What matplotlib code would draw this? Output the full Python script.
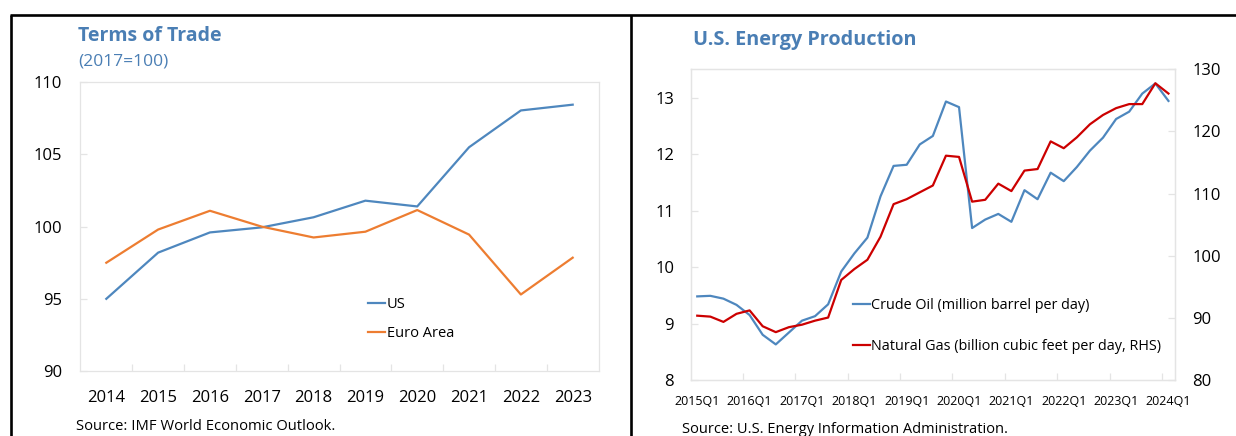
import matplotlib
matplotlib.use("Agg")
import matplotlib.pyplot as plt
from matplotlib.lines import Line2D
from matplotlib.ticker import FixedLocator

plt.rcParams['font.family'] = ['Open Sans', 'DejaVu Sans']

# ---------------- data ----------------
years = ["2014", "2015", "2016", "2017", "2018", "2019", "2020", "2021", "2022", "2023"]
tot_us = [95.0, 98.2, 99.6, 99.95, 100.65, 101.8, 101.4, 105.5, 108.05, 108.45]
tot_euro = [97.5, 99.8, 101.1, 100.0, 99.25, 99.65, 101.15, 99.45, 95.3, 97.85]

quarters = [f"{y}Q{q}" for y in range(2015, 2024) for q in range(1, 5)] + ["2024Q1"]
crude_oil = [9.48, 9.49, 9.44, 9.33, 9.15, 8.80, 8.63, 8.84, 9.05, 9.13,
             9.34, 9.92, 10.24, 10.52, 11.25, 11.79, 11.81, 12.17, 12.32, 12.93,
             12.83, 10.69, 10.84, 10.94, 10.80, 11.36, 11.20, 11.67, 11.52, 11.77,
             12.06, 12.29, 12.62, 12.75, 13.07, 13.25, 12.94]
natural_gas = [90.35, 90.2, 89.35, 90.65, 91.2, 88.65, 87.7, 88.5, 88.9, 89.55,
               90.05, 96.1, 97.85, 99.35, 103.05, 108.3, 109.1, 110.2, 111.3, 116.1,
               115.9, 108.7, 109.0, 111.6, 110.4, 113.7, 113.95, 118.4, 117.3, 119.05,
               121.15, 122.65, 123.75, 124.4, 124.4, 127.75, 126.1]

# ---------------- style ----------------
W, H = 1236, 436
BLUE = '#4E87BE'
ORANGE = '#ED7D31'
RED = '#CC0000'
TITLE = '#4A7EB4'
GRID = '#E4E4E4'

fig = plt.figure(figsize=(W / 100, H / 100), dpi=100)


def px_axes(l, t, r, b):
    return fig.add_axes([l / W, 1 - b / H, (r - l) / W, (b - t) / H])


def ftext(x, y, s, **kw):
    return fig.text(x / W, 1 - y / H, s, **kw)


def style_axes(ax):
    for s in ax.spines.values():
        s.set_color(GRID)
        s.set_linewidth(0.9)
    ax.tick_params(which='both', color=GRID, direction='in', width=0.9)


# ---------------- left panel ----------------
ax1 = px_axes(80.4, 82.3, 598.6, 371)
xs = list(range(len(years)))
ax1.plot(xs, tot_us, color=BLUE, lw=1.6, label='US')
ax1.plot(xs, tot_euro, color=ORANGE, lw=1.6, label='Euro Area')
ax1.set_xlim(-0.5, len(years) - 0.5)
ax1.set_ylim(90, 110)
ax1.set_yticks([90, 95, 100, 105, 110])
ax1.set_xticks(xs)
ax1.set_xticklabels(years)
ax1.xaxis.set_minor_locator(FixedLocator([i + 0.5 for i in range(len(years) - 1)]))
style_axes(ax1)
ax1.tick_params(axis='x', which='major', length=0, pad=13.5, labelsize=12)
ax1.tick_params(axis='x', which='minor', length=5)
ax1.tick_params(axis='y', which='major', length=5, pad=13, labelsize=12)
ax1.legend(loc='upper left', bbox_to_anchor=((367.6 - 80.4) / 518.2, (371 - 297.5) / 288.7),
           frameon=False, fontsize=10.5, handlelength=1.2, handletextpad=0.1,
           labelspacing=0.95, borderaxespad=0, borderpad=0)

ftext(78, 36, "Terms of Trade", color=TITLE, fontsize=14, fontweight='bold',
      ha='left', va='center')
ftext(78, 62, "(2017=100)", color=TITLE, fontsize=12.5, ha='left', va='center')
ftext(76.5, 426.5, "Source: IMF World Economic Outlook.", fontsize=10.6,
      ha='left', va='center')

# ---------------- right panel ----------------
ax2 = px_axes(690.7, 69.3, 1175, 380)
qx = list(range(len(quarters)))
l_oil, = ax2.plot(qx, crude_oil, color=BLUE, lw=1.6)
ax2.set_xlim(-0.5, len(quarters) - 0.5)
ax2.set_ylim(8, 13.5)
ax2.set_yticks([8, 9, 10, 11, 12, 13])
ax2.set_xticks(qx[::4])
ax2.set_xticklabels(quarters[::4])
ax2.xaxis.set_minor_locator(FixedLocator([i + 3.5 for i in range(0, len(quarters) - 4, 4)]))
style_axes(ax2)
ax2.tick_params(axis='x', which='major', length=0, pad=11, labelsize=9)
ax2.tick_params(axis='x', which='minor', length=5)
ax2.tick_params(axis='y', which='major', length=5, pad=12, labelsize=12)

ax3 = ax2.twinx()
l_gas, = ax3.plot(qx, natural_gas, color=RED, lw=1.6)
ax3.set_ylim(80, 130)
ax3.set_yticks([80, 90, 100, 110, 120, 130])
style_axes(ax3)
ax3.tick_params(axis='y', which='major', length=5, pad=12.5, labelsize=12)

ax3.legend([l_oil, l_gas],
           ["Crude Oil (million barrel per day)",
            "Natural Gas (billion cubic feet per day, RHS)"],
           loc='upper left', bbox_to_anchor=((853 - 690.7) / 484.3, (380 - 298) / 310.7),
           frameon=False, fontsize=10.4, handlelength=1.15, handletextpad=0.1,
           labelspacing=1.8, borderaxespad=0, borderpad=0)

ftext(693, 40, "U.S. Energy Production", color=TITLE, fontsize=14.3, fontweight='bold',
      ha='left', va='center')
ftext(682, 429, "Source: U.S. Energy Information Administration.", fontsize=10.5,
      ha='left', va='center')

# ---------------- panel borders ----------------
for (x0, y0, x1, y1) in [(10, 15, W, 15), (11, 15, 11, H), (630.5, 15, 630.5, H)]:
    fig.add_artist(Line2D([x0 / W, x1 / W], [1 - y0 / H, 1 - y1 / H],
                          transform=fig.transFigure, color='black', lw=1.9,
                          solid_capstyle='butt'))

fig.savefig("out.png", dpi=100)
